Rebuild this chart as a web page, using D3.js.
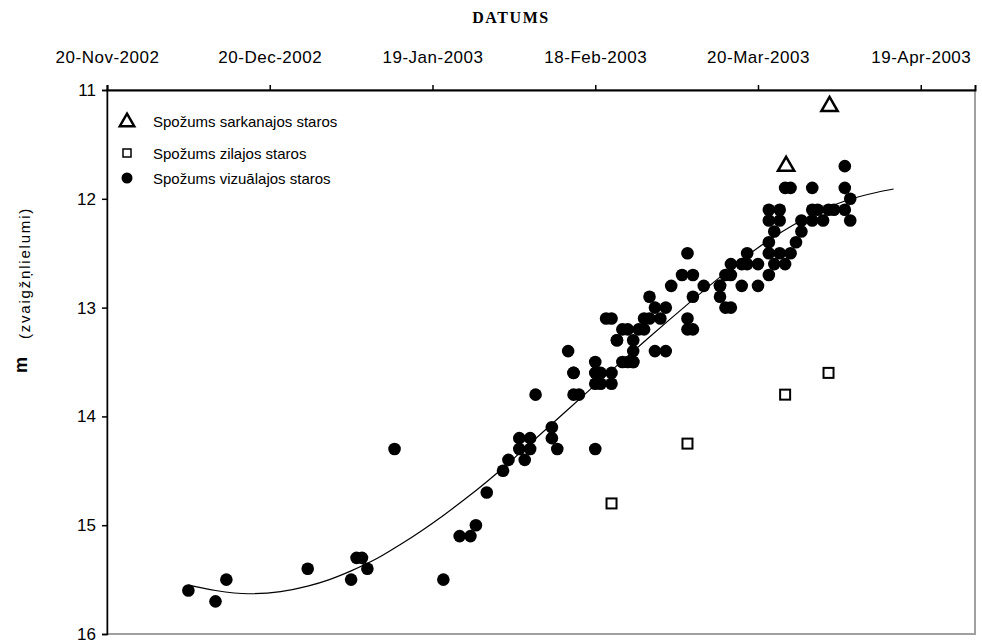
<!DOCTYPE html>
<html>
<head>
<meta charset="utf-8">
<title>Spožums</title>
<script src="https://d3js.org/d3.v7.min.js"></script>
<style>
  body { margin: 0; background: #fff; }
  text { font-family: "Liberation Sans", Arial, sans-serif; fill: #000; }
</style>
</head>
<body>
<div id="chart"></div>
<script>
// start of the date axis, every value below is "days after" this date
var startDate = new Date(2002, 10, 20);
var endDay = 160;
var tickDays = [0, 30, 60, 90, 120, 150];
var magTicks = [11, 12, 13, 14, 15, 16];

// visual brightness (day, magnitude)
var visDay = [15, 20, 22, 37, 45, 46, 47, 48, 53, 62, 65, 67, 68, 70, 73, 74,
  76, 78, 76, 78, 77, 79, 82, 82, 83, 85, 86, 86, 87, 90, 90, 90, 91, 93, 90, 91,
  93, 94, 96, 97, 97, 97, 93, 95, 96, 99, 100, 101, 102, 103, 100, 94, 101, 103,
  95, 97, 86, 104, 106, 108, 107, 110, 108, 107, 107, 108, 113, 113, 114, 114,
  113, 115, 117, 118, 118, 120, 120, 117, 115, 115, 122, 122, 123, 122, 124, 122,
  124, 122, 124, 126, 123, 125, 127, 128, 128, 130, 132, 130, 131, 133, 134, 136,
  137, 125, 126, 130, 136, 136, 137, 92, 98, 99];
var visMag = [15.6, 15.7, 15.5, 15.4, 15.5, 15.3, 15.3, 15.4, 14.3, 15.5, 15.1, 15.1,
  15.0, 14.7, 14.5, 14.4, 14.2, 14.2, 14.3, 14.3, 14.4, 13.8, 14.2, 14.1, 14.3,
  13.4, 13.6, 13.8, 13.8, 14.3, 13.6, 13.5, 13.6, 13.6, 13.7, 13.7, 13.7, 13.3,
  13.5, 13.5, 13.4, 13.3, 13.1, 13.2, 13.2, 13.2, 13.1, 13.0, 13.1, 13.0, 12.9,
  13.3, 13.4, 13.4, 13.5, 13.5, 13.6, 12.8, 12.7, 12.7, 12.5, 12.8, 12.9, 13.1,
  13.2, 13.2, 12.8, 12.9, 13.0, 12.7, 12.8, 12.6, 12.6, 12.5, 12.6, 12.6, 12.8,
  12.8, 12.7, 13.0, 12.4, 12.5, 12.3, 12.1, 12.1, 12.2, 12.2, 12.7, 12.5, 12.5,
  12.6, 12.6, 12.4, 12.3, 12.2, 12.2, 12.2, 12.1, 12.1, 12.1, 12.1, 12.1, 12.2,
  11.9, 11.9, 11.9, 11.7, 11.9, 12.0, 13.1, 13.2, 13.1];

// trend line of the visual brightness
var trendDay = [15, 20, 26, 32, 37, 41, 45, 50, 54, 58, 62, 66, 70, 74, 78, 82, 86,
  90, 95, 100, 107, 113, 120, 128, 136, 142, 145];
var trendMag = [15.55, 15.6, 15.63, 15.61, 15.56, 15.5, 15.42, 15.3, 15.18, 15.05,
  14.91, 14.76, 14.6, 14.43, 14.25, 14.07, 13.89, 13.71, 13.49, 13.27, 12.97, 12.72,
  12.45, 12.2, 12.02, 11.94, 11.91];

// blue brightness
var blueDay = [93, 107, 125, 133];
var blueMag = [14.8, 14.25, 13.8, 13.6];

// red brightness
var redDay = [125, 133];
var redMag = [11.7, 11.15];

var legendLabels = ["Spožums sarkanajos staros", "Spožums zilajos staros", "Spožums vizuālajos staros"];

var W = 982, H = 641;
var plotL = 107, plotR = 975, plotT = 90, plotB = 634;

function toDate(d) { return d3.timeDay.offset(startDate, d); }

var x = d3.scaleTime().domain([startDate, toDate(endDay)]).range([plotL, plotR]);
var y = d3.scaleLinear().domain([11, 16]).range([plotT, plotB]);

var svg = d3.select("#chart").append("svg").attr("width", W).attr("height", H);

// plot border (right and bottom grey)
svg.append("rect")
  .attr("x", plotL).attr("y", plotT)
  .attr("width", plotR - plotL).attr("height", plotB - plotT)
  .attr("fill", "#fff").attr("stroke", "#a0a0a0").attr("stroke-width", 2);

// top date axis
var xAxis = svg.append("g")
  .attr("transform", "translate(0," + plotT + ")")
  .call(d3.axisTop(x).tickValues(tickDays.map(toDate)).tickSize(5).tickPadding(22)
    .tickFormat(d3.timeFormat("%d-%b-%Y")));
xAxis.select(".domain").attr("stroke", "#000").attr("stroke-width", 2);
xAxis.selectAll(".tick line").attr("stroke", "#000").attr("stroke-width", 1.5);
xAxis.selectAll(".tick text").style("font-size", "17px").attr("letter-spacing", "0.5px");

// left magnitude axis
var yAxis = svg.append("g")
  .attr("transform", "translate(" + plotL + ",0)")
  .call(d3.axisLeft(y).tickValues(magTicks).tickSize(5).tickPadding(6)
    .tickFormat(d3.format("d")));
yAxis.select(".domain").attr("stroke", "#000").attr("stroke-width", 1.5);
yAxis.selectAll(".tick line").attr("stroke", "#000").attr("stroke-width", 1.5);
yAxis.selectAll(".tick text").style("font-size", "17px");

// titles
svg.append("text").attr("x", 511).attr("y", 23).attr("text-anchor", "middle")
  .style("font-family", "'Liberation Serif', 'Times New Roman', serif")
  .style("font-weight", "bold").style("font-size", "16px").attr("letter-spacing", "1.6px")
  .text("DATUMS");

svg.append("text").attr("transform", "translate(30,273) rotate(-90)")
  .attr("text-anchor", "middle").style("font-size", "15px").attr("letter-spacing", "1.8px")
  .text("(zvaigžņlielumi)");
svg.append("text").attr("transform", "translate(27,365) rotate(-90)")
  .attr("text-anchor", "middle").style("font-size", "18px").style("font-weight", "bold").text("m");

// trend line
svg.append("path")
  .datum(d3.zip(trendDay, trendMag))
  .attr("fill", "none").attr("stroke", "#000").attr("stroke-width", 1.2)
  .attr("d", d3.line().curve(d3.curveMonotoneX)
    .x(function(d) { return x(toDate(d[0])); })
    .y(function(d) { return y(d[1]); }));

// visual points
svg.append("g").selectAll("circle")
  .data(d3.zip(visDay, visMag))
  .enter().append("circle")
  .attr("cx", function(d) { return x(toDate(d[0])); })
  .attr("cy", function(d) { return y(d[1]); })
  .attr("r", 6.3)
  .attr("fill", "#000");

// blue points
svg.append("g").selectAll("rect")
  .data(d3.zip(blueDay, blueMag))
  .enter().append("rect")
  .attr("x", function(d) { return x(toDate(d[0])) - 5; })
  .attr("y", function(d) { return y(d[1]) - 5; })
  .attr("width", 10).attr("height", 10)
  .attr("fill", "#fff").attr("stroke", "#000").attr("stroke-width", 2);

// red points
var tri = d3.symbol().type(d3.symbolTriangle).size(115);
svg.append("g").selectAll("path")
  .data(d3.zip(redDay, redMag))
  .enter().append("path")
  .attr("transform", function(d) { return "translate(" + (x(toDate(d[0])) + 1) + "," + y(d[1]) + ")"; })
  .attr("d", tri)
  .attr("fill", "#fff").attr("stroke", "#000").attr("stroke-width", 2.5);

// legend
var lg = svg.append("g");
lg.append("path").attr("transform", "translate(127,122)").attr("d", d3.symbol().type(d3.symbolTriangle).size(90))
  .attr("fill", "#fff").attr("stroke", "#000").attr("stroke-width", 2.5);
lg.append("rect").attr("x", 123).attr("y", 149).attr("width", 8).attr("height", 8)
  .attr("fill", "#fff").attr("stroke", "#000").attr("stroke-width", 1.5);
lg.append("circle").attr("cx", 127).attr("cy", 178).attr("r", 5.5).attr("fill", "#000");
lg.selectAll("text.lab").data(legendLabels).enter().append("text")
  .attr("class", "lab")
  .attr("x", 153)
  .attr("y", function(d, i) { return [127, 159, 184][i]; })
  .style("font-size", "15px")
  .text(function(d) { return d; });
</script>
</body>
</html>
